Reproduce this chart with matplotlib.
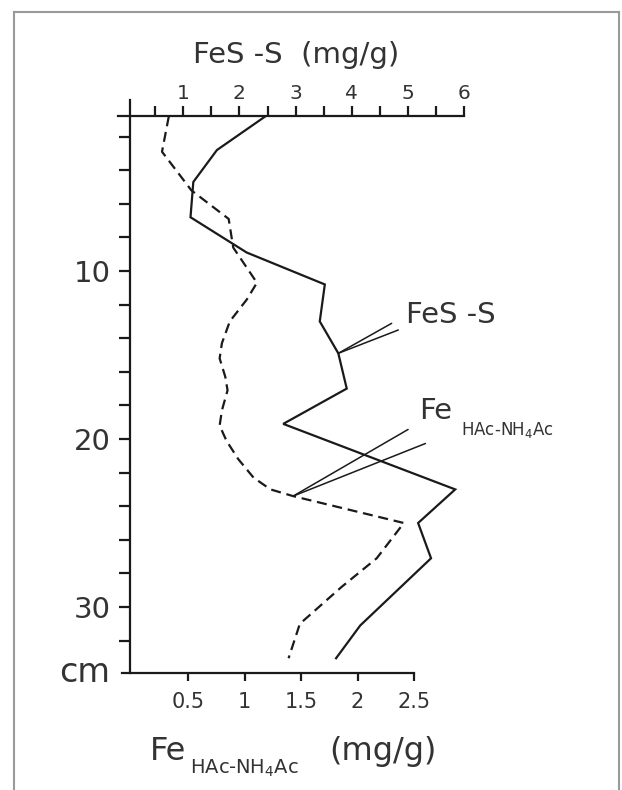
import matplotlib
matplotlib.use("Agg")
import matplotlib.pyplot as plt
from matplotlib.lines import Line2D

plt.rcParams['font.family'] = ['DejaVu Sans']

# ---- data ----
# FeS-S (mg/g), solid line, top axis
fes_depth = [0.8, 2.8, 4.7, 6.8, 8.9, 10.8, 13.0, 14.9, 17.0, 19.1, 23.0, 25.0, 27.1, 31.1, 33.05]
fes_value = [2.46, 1.60, 1.18, 1.13, 2.13, 3.52, 3.43, 3.76, 3.91, 2.78, 5.84, 5.18, 5.41, 4.15, 3.72]

# Fe HAc-NH4Ac (mg/g), dashed line, bottom axis
fe_depth = [0.8, 2.9, 5.2, 6.9, 8.6, 10.7, 11.7, 13.0, 14.3, 15.2, 16.3, 17.1, 18.3, 19.2,
            20.1, 21.2, 22.3, 23.0, 23.4, 25.0, 27.1, 28.8, 31.0, 33.05]
fe_value = [0.33, 0.27, 0.53, 0.86, 0.90, 1.11, 1.02, 0.87, 0.80, 0.78, 0.83, 0.85, 0.80, 0.78,
            0.84, 0.945, 1.08, 1.23, 1.43, 2.41, 2.17, 1.86, 1.49, 1.39]

top_ticks = [1, 2, 3, 4, 5, 6]
top_minor = [0.5, 1.5, 2.5, 3.5, 4.5, 5.5]
bottom_ticks = [0.5, 1.0, 1.5, 2.0, 2.5]
bottom_labels = ['0.5', '1', '1.5', '2', '2.5']
depth_ticks = list(range(2, 33, 2))
depth_labels = [str(d) if d % 10 == 0 else '' for d in depth_ticks]

W, H = 622, 790
fig = plt.figure(figsize=(W / 100, H / 100), dpi=100)

# page border
for xs, ys in [([14, 14], [0, 778]), ([14, 619], [778, 778]), ([619, 619], [0, 778])]:
    fig.add_artist(Line2D([x / W for x in xs], [y / H for y in ys], color='#9a9a9a', lw=1.5))

px_l, px_r, px_t, px_b = 118, 470, 100, 673
ax = fig.add_axes([px_l / W, 1 - px_b / H, (px_r - px_l) / W, (px_b - px_t) / H])
ax.set_facecolor('none')

# bottom axis scale: x = 131.5 + 113 v
ax.set_xlim((px_l - 131.5) / 113, (px_r - 131.5) / 113)
# depth scale: y = 271 + 16.8 (d - 10)
ax.set_ylim(10 + (px_b - 271) / 16.8, 10 + (px_t - 271) / 16.8)

ax2 = ax.twiny()
ax2.set_facecolor('none')
# top axis scale: x = 127 + 56.2 v
ax2.set_xlim((px_l - 127) / 56.2, (px_r - 127) / 56.2)

lw = 1.6
col = '#1a1a1a'
ax2.plot(fes_value, fes_depth, color=col, lw=lw, solid_joinstyle='miter')
ax.plot(fe_value, fe_depth, color=col, lw=lw, linestyle=(0, (4.5, 2.6)))

# spines
for s in ['top', 'right']:
    ax.spines[s].set_visible(False)
for s in ['bottom', 'left', 'right']:
    ax2.spines[s].set_visible(False)
ax.spines['left'].set_position(('data', -0.013))
ax.spines['bottom'].set_bounds(-0.085, 2.5)
ax2.spines['top'].set_position(('data', 0.8))
ax2.spines['top'].set_bounds((px_l - 127) / 56.2, 6.0)
for sp in [ax.spines['left'], ax.spines['bottom'], ax2.spines['top']]:
    sp.set_linewidth(1.6)
    sp.set_color(col)

# ticks
ax.set_xticks(bottom_ticks)
ax.set_xticklabels(bottom_labels)
ax.tick_params(axis='x', direction='out', length=6, width=1.6, color=col, pad=8,
               labelsize=15, labelcolor='#333333')
ax.set_yticks(depth_ticks)
ax.set_yticklabels(depth_labels)
ax.tick_params(axis='y', direction='out', length=8, width=1.6, color=col, pad=6,
               labelsize=21, labelcolor='#333333')

ax2.set_xticks(top_ticks)
ax2.set_xticks(top_minor, minor=True)
ax2.tick_params(axis='x', which='both', direction='out', length=7, width=1.6, color=col,
                pad=2.5, labelsize=14.5, labelcolor='#333333')

# axis labels
tc = '#333333'
fig.text(296 / W, 1 - 63 / H, 'FeS -S  (mg/g)', ha='center', va='baseline', fontsize=21, color=tc)
fig.text(110 / W, 1 - 672 / H, 'cm', ha='right', va='center', fontsize=24, color=tc)
fig.text(150 / W, 1 - 760 / H, 'Fe', ha='left', va='baseline', fontsize=23, color=tc)
fig.text(190 / W, 1 - 774 / H, 'HAc-NH$_4$Ac', ha='left', va='baseline', fontsize=14, color=tc)
fig.text(437 / W, 1 - 760 / H, '(mg/g)', ha='right', va='baseline', fontsize=23, color=tc)

# in-plot labels
fig.text(406 / W, 1 - 323 / H, 'FeS -S', ha='left', va='baseline', fontsize=21, color=tc)
fig.text(419 / W, 1 - 419 / H, 'Fe', ha='left', va='baseline', fontsize=21, color=tc)
fig.text(461 / W, 1 - 435 / H, 'HAc-NH$_4$Ac', ha='left', va='baseline', fontsize=12, color=tc)

# pointer lines
i_fes = 7
for off in [(38.4, 21.6), (43.2, 16.8)]:
    ax2.annotate('', xy=(fes_value[i_fes], fes_depth[i_fes]), xytext=off,
                 textcoords='offset points',
                 arrowprops=dict(arrowstyle='-', color=col, lw=1.1, shrinkA=0, shrinkB=0))
i_fe = 18
for off in [(82.8, 48.0), (95.3, 37.9)]:
    ax.annotate('', xy=(fe_value[i_fe], fe_depth[i_fe]), xytext=off,
                textcoords='offset points',
                arrowprops=dict(arrowstyle='-', color=col, lw=1.1, shrinkA=0, shrinkB=0))

fig.savefig('out.png', dpi=100)
